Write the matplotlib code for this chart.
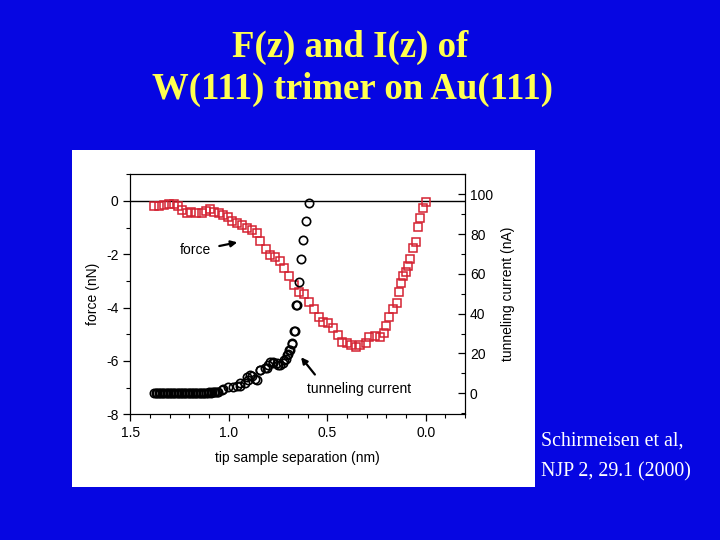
import matplotlib.pyplot as plt
from matplotlib.patches import Rectangle
from matplotlib.ticker import MultipleLocator

# force curve (nN) vs tip sample separation (nm)
force_x = [1.378, 1.353, 1.327, 1.302, 1.278, 1.26, 1.24, 1.214, 1.19, 1.167,
           1.138, 1.116, 1.096, 1.075, 1.052, 1.028, 1.003, 0.983, 0.96, 0.935,
           0.91, 0.884, 0.859, 0.839, 0.812, 0.791, 0.766, 0.74, 0.718, 0.693,
           0.668, 0.643, 0.617, 0.592, 0.567, 0.541, 0.521, 0.495, 0.47, 0.448,
           0.423, 0.399, 0.377, 0.355, 0.335, 0.304, 0.287, 0.259, 0.233, 0.213,
           0.203, 0.188, 0.166, 0.144, 0.136, 0.124, 0.115, 0.098, 0.09, 0.078,
           0.064, 0.047, 0.039, 0.027, 0.013, 0.0]
force_y = [-0.17, -0.18, -0.16, -0.12, -0.12, -0.19, -0.34, -0.46, -0.40, -0.44,
           -0.46, -0.36, -0.31, -0.40, -0.46, -0.51, -0.59, -0.74, -0.81, -0.90,
           -1.02, -1.09, -1.21, -1.49, -1.79, -2.03, -2.11, -2.24, -2.53, -2.81,
           -3.15, -3.40, -3.49, -3.78, -4.06, -4.34, -4.53, -4.59, -4.78, -5.03,
           -5.28, -5.34, -5.40, -5.46, -5.40, -5.31, -5.11, -5.06, -5.09, -4.94,
           -4.69, -4.34, -4.06, -3.81, -3.40, -3.09, -2.81, -2.65, -2.44, -2.19,
           -1.78, -1.53, -0.96, -0.63, -0.28, -0.03]

# tunneling current (nA) vs tip sample separation (nm)
cur_x = [1.378, 1.37, 1.362, 1.355, 1.347, 1.34, 1.332, 1.324, 1.316, 1.308,
         1.30, 1.292, 1.284, 1.276, 1.268, 1.26, 1.252, 1.244, 1.236, 1.228,
         1.22, 1.212, 1.204, 1.196, 1.188, 1.18, 1.172, 1.164, 1.156, 1.148,
         1.14, 1.132, 1.124, 1.116, 1.108, 1.10, 1.092, 1.084, 1.076, 1.068,
         1.06, 1.053, 1.036, 1.028, 1.003, 0.977, 0.96, 0.944, 0.943, 0.918,
         0.909, 0.901, 0.893, 0.884, 0.867, 0.859, 0.842, 0.839, 0.817, 0.808,
         0.80, 0.791, 0.778, 0.774, 0.757, 0.749, 0.74, 0.724, 0.72, 0.71,
         0.706, 0.698, 0.693, 0.69, 0.681, 0.68, 0.67, 0.664, 0.659, 0.656,
         0.646, 0.634, 0.622, 0.609, 0.595]
cur_y = [0.0, 0.1, -0.1, 0.0, 0.2, 0.0, -0.1, 0.1, 0.0, 0.2,
         0.0, 0.1, -0.1, 0.0, 0.1, 0.0, 0.2, 0.0, -0.1, 0.1,
         0.0, 0.0, 0.2, 0.1, 0.0, -0.1, 0.0, 0.1, 0.2, 0.0,
         0.1, 0.0, 0.2, 0.3, 0.2, 0.4, 0.3, 0.5, 0.6, 0.7,
         0.8, 0.8, 1.7, 2.0, 3.0, 3.0, 3.7, 3.7, 5.0, 5.0,
         8.0, 6.7, 9.2, 8.4, 7.0, 6.7, 11.7, 11.7, 12.6, 12.6,
         14.2, 15.6, 15.9, 15.1, 15.1, 14.2, 14.2, 15.1, 16.7, 17.1,
         19.2, 19.8, 21.8, 21.8, 25.1, 24.8, 31.5, 31.5, 44.4, 44.4,
         55.8, 67.3, 77.1, 86.6, 95.5]

BLUE = '#0606e2'
YELLOW = '#ffff50'
RED = '#d42232'

plt.rcParams['axes.unicode_minus'] = False

fig = plt.figure(figsize=(7.2, 5.4), dpi=100, facecolor=BLUE)

# white panel behind the chart
fig.add_artist(Rectangle((0.1, 0.098), 0.643, 0.624, transform=fig.transFigure,
                         facecolor='white', edgecolor='none', zorder=0))

fig.text(0.486, 0.912, 'F(z) and I(z) of', ha='center', va='center',
         fontsize=26.5, fontweight='bold', family='Liberation Serif', color=YELLOW)
fig.text(0.489, 0.834, 'W(111) trimer on Au(111)', ha='center', va='center',
         fontsize=26.5, fontweight='bold', family='Liberation Serif', color=YELLOW)
fig.text(0.751, 0.183, 'Schirmeisen et al,', ha='left', va='center',
         fontsize=14.3, family='Liberation Serif', color='white')
fig.text(0.751, 0.127, 'NJP 2, 29.1 (2000)', ha='left', va='center',
         fontsize=14.3, family='Liberation Serif', color='white')

plt.rcParams['font.family'] = 'Liberation Sans'

ax = fig.add_axes([0.181, 0.2328, 0.465, 0.4444])
ax.set_zorder(1)
ax.set_facecolor('white')
ax.axhline(0, color='black', lw=1, zorder=1)
ax.plot(force_x, force_y, 's', ms=5.6, mfc='none', mec=RED, mew=1.1, zorder=3)

ax.set_xlim(1.5, -0.2)
ax.set_ylim(-8, 1)
ax.xaxis.set_minor_locator(MultipleLocator(0.1))
ax.yaxis.set_major_locator(MultipleLocator(2))
ax.yaxis.set_minor_locator(MultipleLocator(1))
ax.set_xticks([1.5, 1.0, 0.5, 0.0])
ax.set_xticklabels(['1.5', '1.0', '0.5', '0.0'])
ax.tick_params(which='major', direction='out', length=5, width=0.9, labelsize=10, top=False)
ax.tick_params(which='minor', direction='out', length=3, width=0.8, top=False)
ax.set_xlabel('tip sample separation (nm)', fontsize=10, labelpad=8)
ax.set_ylabel('force (nN)', fontsize=10, labelpad=4)

ax2 = ax.twinx()
ax2.plot(cur_x, cur_y, 'o', ms=6, mfc='none', mec='black', mew=1.2, zorder=3)
ax2.set_ylim(-10.6, 110)
ax2.yaxis.set_minor_locator(MultipleLocator(10))
ax2.set_yticks([0, 20, 40, 60, 80, 100])
ax2.tick_params(which='major', direction='in', length=5, width=0.9, labelsize=10)
ax2.tick_params(which='minor', direction='in', length=3, width=0.8)
ax2.set_ylabel('tunneling current (nA)', fontsize=10, labelpad=6)

ax.annotate('', xy=(0.943, -1.53), xytext=(1.062, -1.71),
            arrowprops=dict(arrowstyle='-|>', color='black', lw=1.6, mutation_scale=9))
ax.text(1.172, -1.84, 'force', fontsize=10, ha='center', va='center')
ax.annotate('', xy=(0.642, -5.78), xytext=(0.554, -6.59),
            arrowprops=dict(arrowstyle='-|>', color='black', lw=1.6, mutation_scale=9))
ax.text(0.602, -7.06, 'tunneling current', fontsize=10, ha='left', va='center')

fig.savefig('out.png', dpi=100, facecolor=BLUE)
